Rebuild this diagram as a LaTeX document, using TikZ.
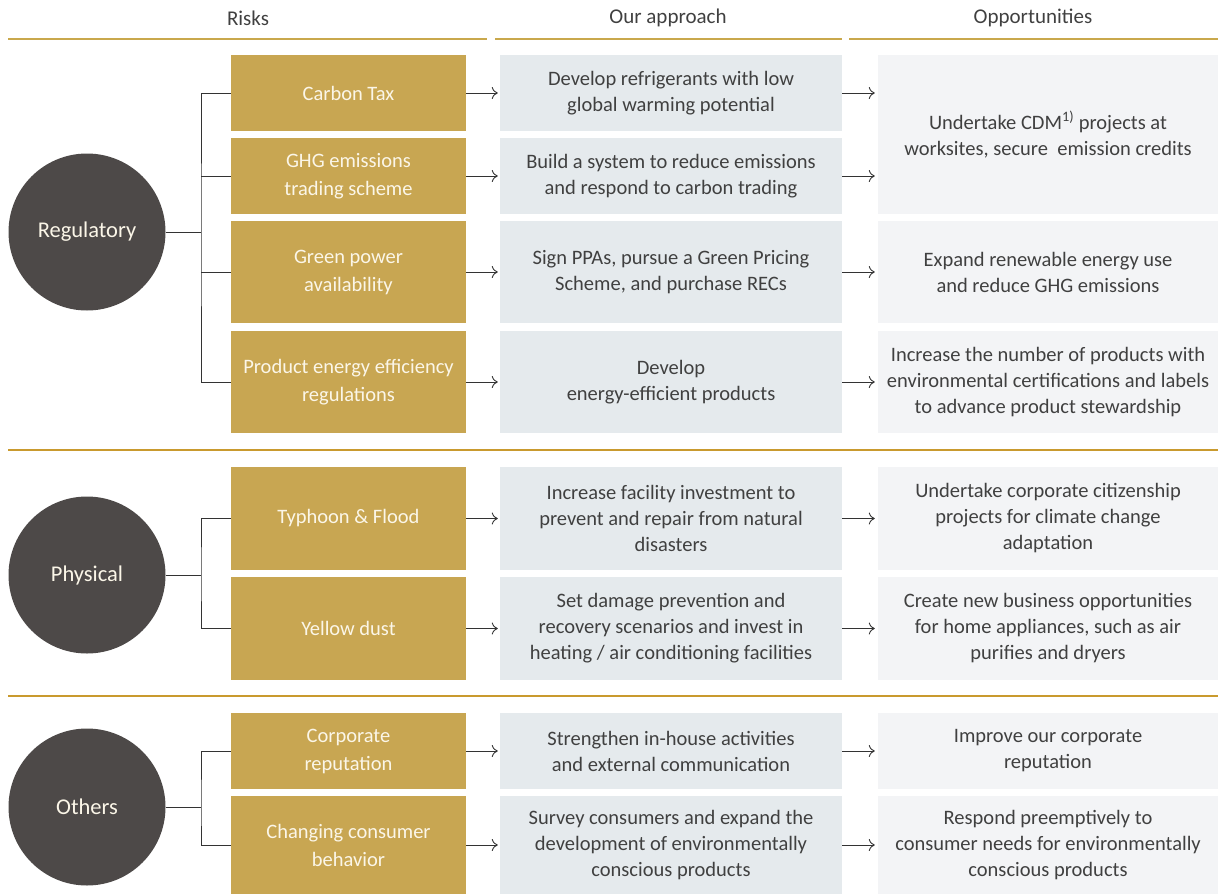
\documentclass[tikz,border=0pt]{standalone}
\usepackage{fontspec}
\setmainfont{Carlito}
\usetikzlibrary{arrows.meta}
\definecolor{gold}{HTML}{C8A652}
\definecolor{goldline}{HTML}{C9A84C}
\definecolor{divline}{HTML}{C99A2E}
\definecolor{cream}{HTML}{FBF6E8}
\definecolor{apbox}{HTML}{E5EAED}
\definecolor{opbox}{HTML}{F3F4F6}
\definecolor{circ}{HTML}{4D4948}
\definecolor{txt}{HTML}{404040}
\definecolor{conn}{HTML}{333333}
\tikzset{
  riskbox/.style={fill=gold, text=cream, draw=none, minimum width=235pt, inner sep=2pt, align=center, font=\fontsize{20.5}{28}\selectfont},
  apprbox/.style={fill=apbox, text=txt, draw=none, minimum width=342pt, inner sep=2pt, align=center, font=\fontsize{20.5}{26}\selectfont},
  oppbox/.style={fill=opbox, text=txt, draw=none, minimum width=340pt, inner sep=2pt, align=center, font=\fontsize{20.5}{26}\selectfont},
  catcirc/.style={circle, fill=circ, text=cream, minimum size=157pt, inner sep=0pt, font=\fontsize{22.5}{26}\selectfont},
  header/.style={text=txt, font=\fontsize{21}{24}\selectfont},
  hline/.style={draw=goldline, line width=2pt},
  divider/.style={draw=divline, line width=1.3pt},
  tree/.style={draw=conn, line width=1pt},
  flow/.style={draw=conn, line width=0.9pt, -{To[length=6pt,width=12pt]}},
}
\begin{document}
\begin{tikzpicture}[x=1pt,y=-1pt]
\useasboundingbox (0,0) rectangle (1226,894);
% headers
\node[header] (h1) at (248,18) {Risks};
\node[header] (h2) at (668,18) {Our approach};
\node[header] (h3) at (1033,18) {Opportunities};
\draw[hline] (8,39) -- (487,39);
\draw[hline] (495,39) -- (842,39);
\draw[hline] (849,39) -- (1218,39);
\draw[divider] (8,450) -- (1218,450);
\draw[divider] (8,696) -- (1218,696);
% circles
\node[catcirc] (c1) at (87,232) {Regulatory};
\node[catcirc] (c2) at (87,575) {Physical};
\node[catcirc] (c3) at (87,807) {Others};
% risk boxes
\node[riskbox, minimum height=76pt] (r1) at (348.5,93) {Carbon Tax};
\node[riskbox, minimum height=76pt] (r2) at (348.5,176) {GHG emissions\\trading scheme};
\node[riskbox, minimum height=102pt] (r3) at (348.5,272) {Green power\\availability};
\node[riskbox, minimum height=102pt] (r4) at (348.5,382) {Product energy efficiency\\regulations};
\node[riskbox, minimum height=103pt] (r5) at (348.5,518.5) {Typhoon \& Flood};
\node[riskbox, minimum height=103pt] (r6) at (348.5,628.5) {Yellow dust};
\node[riskbox, minimum height=76pt] (r7) at (348.5,751) {Corporate\\reputation};
\node[riskbox, minimum height=98pt] (r8) at (348.5,845) {Changing consumer\\behavior};
% approach boxes
\node[apprbox, minimum height=76pt] (a1) at (671,93) {Develop refrigerants with low\\global warming potential};
\node[apprbox, minimum height=76pt] (a2) at (671,176) {Build a system to reduce emissions\\and respond to carbon trading};
\node[apprbox, minimum height=102pt] (a3) at (671,272) {Sign PPAs, pursue a Green Pricing\\Scheme, and purchase RECs};
\node[apprbox, minimum height=102pt] (a4) at (671,382) {Develop\\energy-efficient products};
\node[apprbox, minimum height=103pt] (a5) at (671,518.5) {Increase facility investment to\\prevent and repair from natural\\disasters};
\node[apprbox, minimum height=103pt] (a6) at (671,628.5) {Set damage prevention and\\recovery scenarios and invest in\\heating / air conditioning facilities};
\node[apprbox, minimum height=76pt] (a7) at (671,751) {Strengthen in-house activities\\and external communication};
\node[apprbox, minimum height=98pt] (a8) at (671,845) {Survey consumers and expand the\\development of environmentally\\conscious products};
% opportunity boxes
\node[oppbox, minimum height=159pt] (o1) at (1048,134.5) {Undertake CDM\textsuperscript{1)} projects at\\worksites, secure\ \ emission credits};
\node[oppbox, minimum height=102pt] (o3) at (1048,272) {Expand renewable energy use\\and reduce GHG emissions};
\node[oppbox, minimum height=102pt] (o4) at (1048,382) {Increase the number of products with\\environmental certifications and labels\\to advance product stewardship};
\node[oppbox, minimum height=103pt] (o5) at (1048,518.5) {Undertake corporate citizenship\\projects for climate change\\adaptation};
\node[oppbox, minimum height=103pt] (o6) at (1048,628.5) {Create new business opportunities\\for home appliances, such as air\\purifies and dryers};
\node[oppbox, minimum height=76pt] (o7) at (1048,751) {Improve our corporate\\reputation};
\node[oppbox, minimum height=98pt] (o8) at (1048,845) {Respond preemptively to\\consumer needs for environmentally\\conscious products};
% tree connectors
\coordinate (j1) at (201,232);
\coordinate (j2) at (201,575);
\coordinate (j3) at (201,807);
\draw[tree] (c1.east) -- (j1);
\draw[tree] (r1.west) -| (j1) |- (r4.west);
\draw[tree] (j1 |- r2.west) -- (r2.west);
\draw[tree] (j1 |- r3.west) -- (r3.west);
\draw[tree] (c2.east) -- (j2);
\draw[tree] (r5.west) -| (j2) |- (r6.west);
\draw[tree] (c3.east) -- (j3);
\draw[tree] (r7.west) -| (j3) |- (r8.west);
% flow arrows
\foreach \i in {1,...,8} {
  \draw[flow] (r\i.east) -- ([xshift=-2pt]a\i.west);
}
\draw[flow] (a1.east) -- ([xshift=-3pt]a1.east -| o1.west);
\draw[flow] (a2.east) -- ([xshift=-3pt]a2.east -| o1.west);
\foreach \i in {3,...,8} {
  \draw[flow] (a\i.east) -- ([xshift=-3pt]o\i.west);
}
\end{tikzpicture}
\end{document}
